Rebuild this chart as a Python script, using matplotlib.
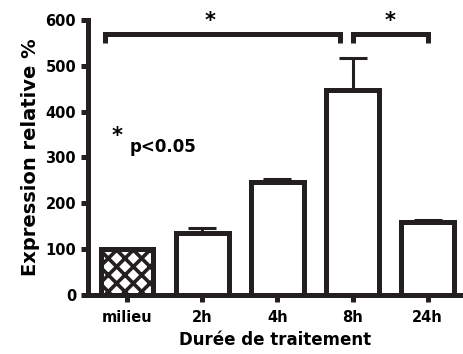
import numpy as np
import matplotlib
matplotlib.use("Agg")
import matplotlib.pyplot as plt

# valeurs
categories = ["milieu", "2h", "4h", "8h", "24h"]
expression = [100, 135, 247, 448, 159]
erreur = [0, 11, 6, 69, 5]

plt.rcParams['font.family'] = ['DejaVu Sans']
plt.rcParams['font.weight'] = 'bold'
plt.rcParams['hatch.linewidth'] = 2.6

fig = plt.figure(figsize=(4.63, 3.54), dpi=100)
ax = fig.add_axes([0.19, 0.167, 0.81, 0.777])

x = np.arange(len(categories))
bars = ax.bar(x, expression, width=0.7, color='white', edgecolor='#231f20',
              linewidth=3.6, zorder=2)
bars[0].set_hatch('xx')
ax.errorbar(x, expression, yerr=[np.zeros(len(erreur)), erreur], fmt='none',
            ecolor='#231f20', elinewidth=2.2, capsize=10, capthick=2.2, zorder=1)

# crochets de significativité
yb = 570
ax.plot([-0.29, -0.29, 2.84, 2.84], [550, yb, yb, 550], color='#231f20', lw=3.6,
        solid_capstyle='butt', solid_joinstyle='miter')
ax.plot([3.01, 3.01, 4.0, 4.0], [550, yb, yb, 550], color='#231f20', lw=3.6,
        solid_capstyle='butt', solid_joinstyle='miter')
ax.text(1.1, 575, "*", ha='center', va='bottom', fontsize=15, fontweight='bold')
ax.text(3.5, 575, "*", ha='center', va='bottom', fontsize=15, fontweight='bold')
ax.text(-0.13, 325, "*", ha='center', va='bottom', fontsize=15, fontweight='bold')
ax.text(0.04, 322, "p<0.05", ha='left', va='center', fontsize=12, fontweight='bold')

ax.set_xlim(-0.52, 4.47)
ax.set_ylim(0, 600)
ax.set_yticks([0, 100, 200, 300, 400, 500, 600])
ax.set_xticks(x)
ax.set_xticklabels(categories)
for s in ['top', 'right']:
    ax.spines[s].set_visible(False)
for s in ['left', 'bottom']:
    ax.spines[s].set_linewidth(3.6)
    ax.spines[s].set_color('#231f20')
ax.tick_params(direction='out', length=5, width=3.6, color='#231f20', labelsize=10.5)
ax.tick_params(axis='x', pad=6)
ax.set_ylabel("Expression relative %", fontsize=14, fontweight='bold')
ax.set_xlabel("Durée de traitement", fontsize=12, fontweight='bold', labelpad=4)

fig.savefig("out.png", dpi=100)
